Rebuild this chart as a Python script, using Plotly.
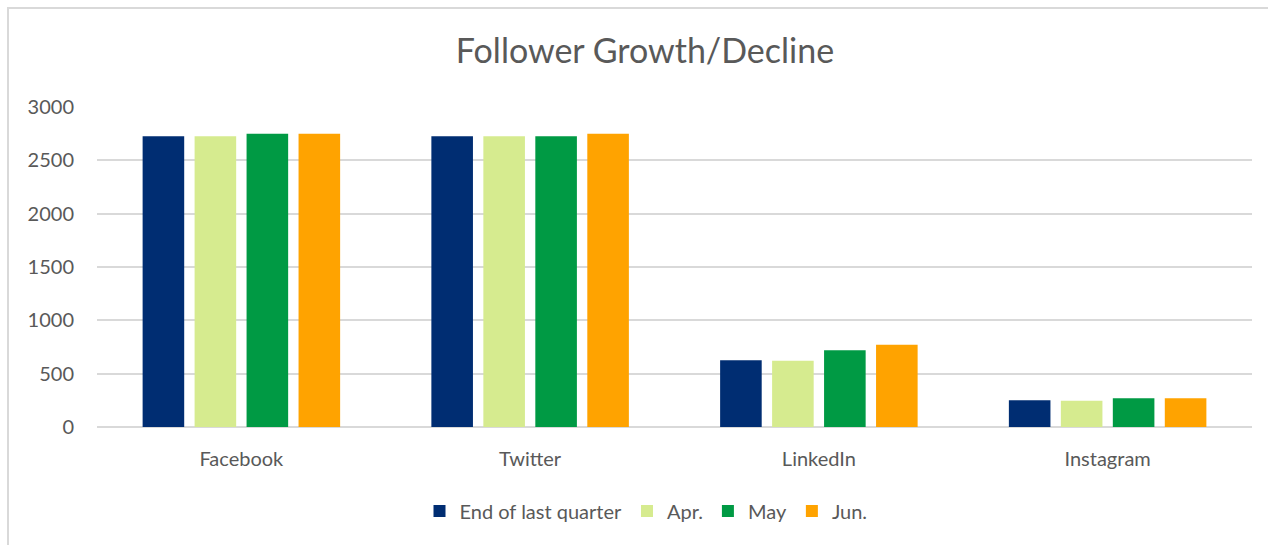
import plotly.graph_objects as go

categories = ["Facebook", "Twitter", "LinkedIn", "Instagram"]
series_names = ["End of last quarter", "Apr.", "May", "Jun."]
end_of_last_quarter = [2725, 2725, 625, 250]
apr = [2725, 2725, 620, 245]
may = [2750, 2725, 720, 270]
jun = [2750, 2750, 770, 270]
y_ticks = [0, 500, 1000, 1500, 2000, 2500, 3000]

colors = ["#002D72", "#D6EB8F", "#009A44", "#FFA300"]
FONT = "Lato"
GREY = "#595959"

fig = go.Figure()
for name, vals, col in zip(series_names, [end_of_last_quarter, apr, may, jun], colors):
    fig.add_trace(go.Bar(name=name, x=categories, y=vals, marker=dict(color=col, line=dict(width=0))))

fig.update_layout(
    width=1268, height=545,
    paper_bgcolor="white", plot_bgcolor="white",
    margin=dict(l=97, r=16, t=107, b=118, autoexpand=False),
    barmode="group", bargap=0.28, bargroupgap=0.2,
    font=dict(family=FONT, color=GREY, size=20),
    title=dict(text="Follower Growth/Decline", xref="container", x=645 / 1268, xanchor="center",
               y=1 - 51/545, yanchor="middle",
               font=dict(family=FONT, size=34, color=GREY)),
    legend=dict(orientation="h", x=(646 - 97) / 1155, xanchor="center", y=-0.2625, yanchor="middle",
                font=dict(family=FONT, size=20, color=GREY), itemwidth=30,
                traceorder="normal"),
    showlegend=True,
)
fig.update_yaxes(range=[0, 3000], tickvals=y_ticks, showgrid=True, gridcolor="#D9D9D9", gridwidth=1.5,
                 zeroline=True, zerolinecolor="#D9D9D9", zerolinewidth=1.5, showline=False,
                 ticklabelstandoff=22, tickfont=dict(size=20, color=GREY))
fig.update_xaxes(showline=False, showgrid=False, ticklabelstandoff=18, tickfont=dict(size=20, color=GREY))

# outer chart border
fig.add_shape(type="rect", xref="paper", yref="paper",
              x0=(8 - 97) / 1155, x1=(1275 - 97) / 1155,
              y0=(427 - 560) / 320, y1=(427 - 8) / 320,
              line=dict(color="#D9D9D9", width=2), fillcolor="rgba(0,0,0,0)", layer="below")

fig.write_html("out.html", config={"displayModeBar": False},
               post_script="document.body.style.margin='0';document.body.style.overflow='hidden';")
